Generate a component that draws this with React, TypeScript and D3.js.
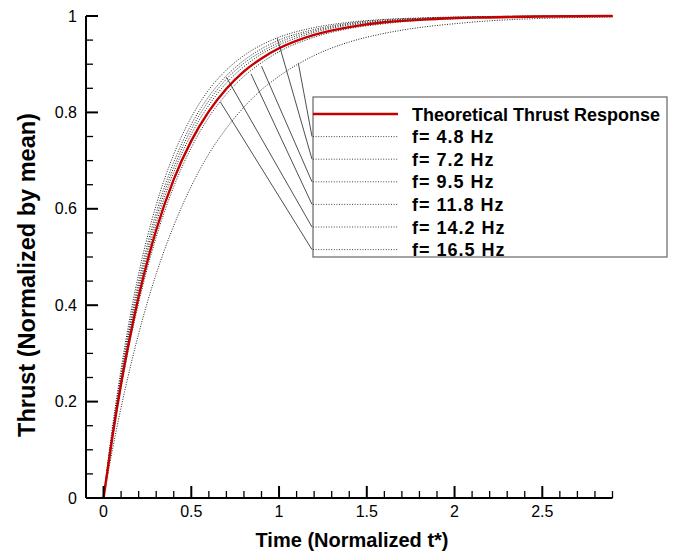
import React from "react";
import * as d3 from "d3";

const times = [0, 0.05, 0.1, 0.15, 0.2, 0.3, 0.4, 0.5, 0.6, 0.7, 0.8, 0.9, 1.0, 1.2, 1.4, 1.6, 1.8, 2.0, 2.2, 2.5, 2.9];

const theoretical = [0, 0.126, 0.237, 0.333, 0.418, 0.556, 0.661, 0.741, 0.802, 0.849, 0.885, 0.912, 0.933, 0.961, 0.977, 0.987, 0.992, 0.996, 0.997, 0.999, 1.0];

const f48 = [0, 0.099, 0.188, 0.268, 0.341, 0.465, 0.565, 0.647, 0.714, 0.767, 0.811, 0.847, 0.875, 0.918, 0.946, 0.964, 0.976, 0.984, 0.99, 0.995, 0.998];
const f72 = [0, 0.145, 0.268, 0.374, 0.465, 0.608, 0.713, 0.79, 0.847, 0.888, 0.918, 0.94, 0.956, 0.976, 0.987, 0.993, 0.996, 0.998, 0.999, 1.0, 1.0];
const f95 = [0, 0.122, 0.229, 0.323, 0.405, 0.541, 0.646, 0.727, 0.79, 0.838, 0.875, 0.903, 0.926, 0.956, 0.974, 0.984, 0.991, 0.994, 0.997, 0.999, 1.0];
const f118 = [0, 0.131, 0.245, 0.345, 0.431, 0.57, 0.676, 0.755, 0.815, 0.861, 0.895, 0.921, 0.94, 0.966, 0.981, 0.989, 0.994, 0.996, 0.998, 0.999, 1.0];
const f142 = [0, 0.139, 0.258, 0.361, 0.45, 0.592, 0.697, 0.775, 0.833, 0.876, 0.908, 0.932, 0.95, 0.972, 0.985, 0.992, 0.995, 0.997, 0.999, 1.0, 1.0];
const f165 = [0, 0.135, 0.252, 0.353, 0.44, 0.581, 0.686, 0.765, 0.824, 0.869, 0.902, 0.926, 0.945, 0.969, 0.983, 0.99, 0.995, 0.997, 0.998, 1.0, 1.0];

const theoreticalLabel = "Theoretical Thrust Response";
const freqLabels = ["f= 4.8 Hz", "f= 7.2 Hz", "f= 9.5 Hz", "f= 11.8 Hz", "f= 14.2 Hz", "f= 16.5 Hz"];
const freqSeries = [f48, f72, f95, f118, f142, f165];

// leader line anchor points on the curves (data coords)
const leaderT = [1.11, 0.99, 0.9, 0.84, 0.7, 0.665];
const leaderV = [0.902, 0.954, 0.896, 0.88, 0.873, 0.822];

const xMajor = [0, 0.5, 1, 1.5, 2, 2.5];
const xMajorLabels = ["0", "0.5", "1", "1.5", "2", "2.5"];
const yMajor = [0, 0.2, 0.4, 0.6, 0.8, 1];
const yMajorLabels = ["0", "0.2", "0.4", "0.6", "0.8", "1"];

const xTitle = "Time (Normalized t*)";
const yTitle = "Thrust (Normalized by mean)";

const W = 679;
const H = 556;
const FONT = "'Liberation Sans', Arial, Helvetica, sans-serif";

export default function App() {
  const x = d3.scaleLinear().domain([-0.1, 2.9]).range([86, 612.5]);
  const y = d3.scaleLinear().domain([0, 1]).range([498, 16]);

  const line = (vals: number[]) =>
    d3
      .line<number>()
      .x((_, i) => x(times[i]))
      .y((v) => y(v))
      .curve(d3.curveMonotoneX)(vals) || "";

  const xMinor = d3.range(-1, 30).map((i) => i / 10).filter((v) => v > -0.05 && !xMajor.some((m) => Math.abs(m - v) < 1e-6));
  const yMinor = d3.range(0, 21).map((i) => i / 20).filter((v) => !yMajor.some((m) => Math.abs(m - v) < 1e-6));

  const legX = 313;
  const legY = 97;
  const legW = 354;
  const legH = 160;
  const row0 = 114;
  const rowStep = 22.6;
  const sampleEnd = 398;
  const textX = 412;

  return (
    <svg
      width={W}
      height={H}
      style={{ position: "absolute", left: 0, top: 0, background: "#fff" }}
      fontFamily={FONT}
    >
      <rect x={0} y={0} width={W} height={H} fill="#fff" />

      {/* dotted frequency curves */}
      {freqSeries.map((s, i) => (
        <path
          key={i}
          d={line(s)}
          fill="none"
          stroke="#222"
          strokeWidth={1}
          strokeDasharray="1 1.5"
        />
      ))}

      {/* theoretical */}
      <path d={line(theoretical)} fill="none" stroke="#c40000" strokeWidth={2.4} />

      {/* leader lines */}
      {leaderT.map((t, i) => (
        <line
          key={i}
          x1={x(t)}
          y1={y(leaderV[i])}
          x2={legX - 1}
          y2={row0 + rowStep * (i + 1)}
          stroke="#222"
          strokeWidth={0.8}
        />
      ))}

      {/* axes */}
      <line x1={x(-0.1)} y1={y(0)} x2={x(2.9)} y2={y(0)} stroke="#000" strokeWidth={2} />
      <line x1={x(-0.1)} y1={y(0)} x2={x(-0.1)} y2={y(1)} stroke="#000" strokeWidth={2} />

      {xMajor.map((v, i) => (
        <g key={"xm" + i}>
          <line x1={x(v)} x2={x(v)} y1={y(0)} y2={y(0) - 12} stroke="#000" strokeWidth={2} />
          <text x={x(v)} y={517} textAnchor="middle" fontSize={16} fill="#000">
            {xMajorLabels[i]}
          </text>
        </g>
      ))}
      {xMinor.map((v, i) => (
        <line key={"xn" + i} x1={x(v)} x2={x(v)} y1={y(0)} y2={y(0) - 7} stroke="#000" strokeWidth={1.3} />
      ))}

      {yMajor.map((v, i) => (
        <g key={"ym" + i}>
          <line x1={x(-0.1)} x2={x(-0.1) + 12} y1={y(v)} y2={y(v)} stroke="#000" strokeWidth={2} />
          <text x={77} y={y(v) + 5.5} textAnchor="end" fontSize={16} fill="#000">
            {yMajorLabels[i]}
          </text>
        </g>
      ))}
      {yMinor.map((v, i) => (
        <line key={"yn" + i} x1={x(-0.1)} x2={x(-0.1) + 7} y1={y(v)} y2={y(v)} stroke="#000" strokeWidth={1.3} />
      ))}

      {/* axis titles */}
      <text x={352} y={547} textAnchor="middle" fontSize={20} fontWeight="bold" fill="#000">
        {xTitle}
      </text>
      <text
        transform={`translate(35,275) rotate(-90)`}
        textAnchor="middle"
        fontSize={23.5}
        fontWeight="bold"
        fill="#000"
      >
        {yTitle}
      </text>

      {/* legend */}
      <rect x={legX} y={legY} width={legW} height={legH} fill="#fff" stroke="#666" strokeWidth={1.2} />
      <line x1={legX} x2={sampleEnd} y1={row0} y2={row0} stroke="#c40000" strokeWidth={2.4} />
      <text x={textX} y={row0 + 6.5} fontSize={18} fontWeight="bold" fill="#000">
        {theoreticalLabel}
      </text>
      {freqLabels.map((lab, i) => {
        const ry = row0 + rowStep * (i + 1);
        return (
          <g key={"lg" + i}>
            <line x1={legX} x2={sampleEnd} y1={ry} y2={ry} stroke="#333" strokeWidth={0.9} strokeDasharray="1 1.6" />
            <text x={textX} y={ry + 6.5} fontSize={18} fontWeight="bold" fill="#000" letterSpacing={1}>
              {lab}
            </text>
          </g>
        );
      })}
    </svg>
  );
}
